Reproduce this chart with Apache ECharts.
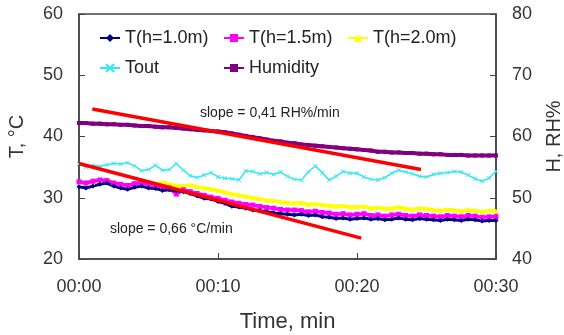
<!DOCTYPE html>
<html>
<head>
<meta charset="utf-8">
<script src="https://cdn.jsdelivr.net/npm/echarts@6/dist/echarts.min.js"></script>
<style>html,body{margin:0;padding:0;background:#fff}#c{width:564px;height:335px}</style>
</head>
<body>
<div id="c"></div>
<script>
const times = [0,0.5,1,1.5,2,2.5,3,3.5,4,4.5,5,5.5,6,6.5,7,7.5,8,8.5,9,9.5,10,10.5,11,11.5,12,12.5,13,13.5,14,14.5,15,15.5,16,16.5,17,17.5,18,18.5,19,19.5,20,20.5,21,21.5,22,22.5,23,23.5,24,24.5,25,25.5,26,26.5,27,27.5,28,28.5,29,29.5,30];
const xTicks = ['00:00','00:10','00:20','00:30'];
const t10 = [31.8,31.6,31.9,32.2,32.4,31.9,31.6,31.4,31.7,31.9,31.6,31.5,31.2,31.3,31.1,31.0,30.7,30.3,29.9,29.8,29.4,29.1,28.6,28.5,28.3,28.0,27.9,27.7,27.5,27.4,27.3,27.2,27.3,27.1,27.2,26.9,26.8,26.6,26.7,26.5,26.6,26.7,26.5,26.6,26.4,26.5,26.7,26.5,26.4,26.6,26.5,26.4,26.3,26.5,26.4,26.3,26.5,26.4,26.2,26.3,26.3];
const t15 = [32.6,32.4,32.7,32.9,32.8,32.4,32.2,32.0,32.3,32.5,32.2,32.0,31.8,31.6,30.6,31.3,31.0,30.7,30.4,30.1,29.9,29.6,29.3,29.1,28.9,28.8,28.6,28.4,28.3,28.1,28.0,28.0,27.9,27.7,27.8,27.6,27.5,27.3,27.4,27.2,27.3,27.4,27.1,27.2,27.0,27.2,27.3,27.1,27.0,27.2,27.1,27.0,26.9,27.1,27.0,26.9,27.1,27.0,26.8,26.9,26.9];
const t20 = [32.4,32.6,32.5,32.8,32.9,32.5,32.3,32.0,32.4,32.6,32.4,32.3,32.5,32.2,32.0,31.9,32.1,31.8,31.6,31.4,31.2,30.9,30.6,30.4,30.2,30.0,29.8,29.6,29.5,29.3,29.2,29.1,29.2,28.9,29.0,28.8,28.7,28.6,28.7,28.5,28.5,28.6,28.3,28.4,28.2,28.3,28.5,28.2,28.1,28.3,28.2,28.0,27.9,28.1,28.0,27.8,28.0,27.9,27.7,27.9,27.8];
const tout = [35.5,35.0,35.3,35.1,35.4,35.6,35.5,35.7,35.2,34.4,34.6,35.3,34.5,34.6,35.6,34.5,33.6,33.3,33.7,34.1,33.4,33.2,33.1,32.9,34.4,34.3,33.9,34.1,33.8,34.2,33.5,33.0,32.9,34.2,35.2,34.1,32.9,33.5,34.3,34.0,34.0,33.4,33.0,32.9,33.3,34.0,34.5,34.2,33.9,33.5,33.4,33.8,34.0,34.1,34.3,34.2,33.7,33.1,32.7,33.2,34.3];
const humidity = [62.2,62.2,62.1,62.1,62.0,62.0,61.9,61.9,61.8,61.7,61.7,61.6,61.5,61.5,61.4,61.3,61.2,61.1,61.0,60.9,60.8,60.7,60.5,60.3,60.1,59.9,59.7,59.5,59.3,59.2,59.0,58.9,58.7,58.6,58.5,58.4,58.3,58.2,58.1,58.0,57.9,57.8,57.7,57.5,57.5,57.4,57.4,57.3,57.3,57.2,57.2,57.1,57.1,57.0,57.0,57.0,56.9,56.9,56.9,56.9,56.9];
const trendTimeT = [0, 20.3];
const trendT = [35.6, 23.4];
const trendTimeH = [0.96, 24.6];
const trendH = [64.5, 54.6];
const seriesNames = ['T(h=1.0m)','T(h=1.5m)','T(h=2.0m)','Tout','Humidity'];
const slopeTexts = ['slope = 0,41 RH%/min','slope = 0,66 °C/min'];

const pair = (xs, ys) => xs.map((x, i) => [x, ys[i]]);
const FONT = '"Liberation Sans", Arial, sans-serif';
const chart = echarts.init(document.getElementById('c'), null, {renderer: 'canvas'});
const base = {type: 'line', showSymbol: true, symbolSize: 4, animation: false, z: 3};
const legendText = {fontFamily: FONT, fontSize: 18, color: '#222', lineHeight: 18};
chart.setOption({
  backgroundColor: '#fff',
  animation: false,
  grid: {left: 79, right: 68, top: 14, bottom: 76, show: true, borderColor: '#444', borderWidth: 1.5,
         backgroundColor: 'transparent', outerBoundsMode: 'none', containLabel: false},
  legend: [
    {left: 99, top: 29, padding: 0, orient: 'vertical', itemGap: 12, itemWidth: 20, itemHeight: 10,
     textStyle: legendText, data: [seriesNames[0], seriesNames[3]]},
    {left: 223, top: 29, padding: 0, orient: 'vertical', itemGap: 12, itemWidth: 20, itemHeight: 10,
     textStyle: legendText, data: [seriesNames[1], seriesNames[4]]},
    {left: 347, top: 29, padding: 0, orient: 'vertical', itemGap: 12, itemWidth: 20, itemHeight: 10,
     textStyle: legendText, data: [seriesNames[2]]}
  ],
  xAxis: {
    type: 'value', min: 0, max: 30, interval: 10,
    name: 'Time, min', nameLocation: 'middle', nameGap: 52,
    nameTextStyle: {fontFamily: FONT, fontSize: 22, color: '#333'},
    axisLine: {lineStyle: {color: '#444', width: 1.5}},
    axisTick: {inside: true, length: 6, lineStyle: {color: '#444'}},
    splitLine: {show: false},
    axisLabel: {margin: 19, fontFamily: FONT, fontSize: 18, color: '#333',
      formatter: v => xTicks[Math.round(v / 10)]}
  },
  yAxis: [
    {type: 'value', min: 20, max: 60, interval: 10, position: 'left',
     name: 'T, °C', nameLocation: 'middle', nameGap: 52, nameRotate: 90,
     nameTextStyle: {fontFamily: FONT, fontSize: 20, color: '#333'},
     axisLine: {show: true, lineStyle: {color: '#444', width: 1.5}},
     axisTick: {show: true, inside: true, length: 6, lineStyle: {color: '#444'}},
     splitLine: {show: false},
     axisLabel: {margin: 16, fontFamily: FONT, fontSize: 18, color: '#333'}},
    {type: 'value', min: 40, max: 80, interval: 10, position: 'right',
     name: 'H, RH%', nameLocation: 'middle', nameGap: 48, nameRotate: 90,
     nameTextStyle: {fontFamily: FONT, fontSize: 20, color: '#333'},
     axisLine: {show: true, lineStyle: {color: '#444', width: 1.5}},
     axisTick: {show: true, inside: true, length: 6, lineStyle: {color: '#444'}},
     splitLine: {show: false},
     axisLabel: {margin: 16, fontFamily: FONT, fontSize: 18, color: '#333'}}
  ],
  series: [
    Object.assign({}, base, {name: seriesNames[3], data: pair(times, tout), symbol: 'path://M0,0L10,10M10,0L0,10', symbolSize: 4,
      itemStyle: {color: '#33e8f0', borderColor: '#33e8f0', borderWidth: 1}, lineStyle: {color: '#33e8f0', width: 1.5}}),
    Object.assign({}, base, {name: seriesNames[4], yAxisIndex: 1, data: pair(times, humidity), symbol: 'rect', symbolSize: 4,
      itemStyle: {color: '#800080'}, lineStyle: {color: '#800080', width: 4}}),
    Object.assign({}, base, {name: seriesNames[2], data: pair(times, t20), symbol: 'triangle', symbolSize: 5,
      itemStyle: {color: '#ffff00'}, lineStyle: {color: '#ffff00', width: 3.5}}),
    Object.assign({}, base, {name: seriesNames[1], data: pair(times, t15), symbol: 'rect', symbolSize: 5,
      itemStyle: {color: '#ff00ff'}, lineStyle: {color: '#ff00ff', width: 3.5}}),
    Object.assign({}, base, {name: seriesNames[0], data: pair(times, t10), symbol: 'diamond', symbolSize: 5,
      itemStyle: {color: '#000080'}, lineStyle: {color: '#000080', width: 3}}),
    {type: 'line', name: 'trendT', data: pair(trendTimeT, trendT), symbol: 'none', z: 5,
     lineStyle: {color: '#ff0000', width: 3.5}, animation: false},
    {type: 'line', name: 'trendH', yAxisIndex: 1, data: pair(trendTimeH, trendH), symbol: 'none', z: 5,
     lineStyle: {color: '#ff0000', width: 3.5}, animation: false}
  ],
  graphic: [
    {type: 'text', left: 200, top: 106, z: 10, style: {text: slopeTexts[0], font: '14px ' + FONT, fill: '#222'}},
    {type: 'text', left: 110, top: 222, z: 10, style: {text: slopeTexts[1], font: '14px ' + FONT, fill: '#222'}}
  ]
});
</script>
</body>
</html>
